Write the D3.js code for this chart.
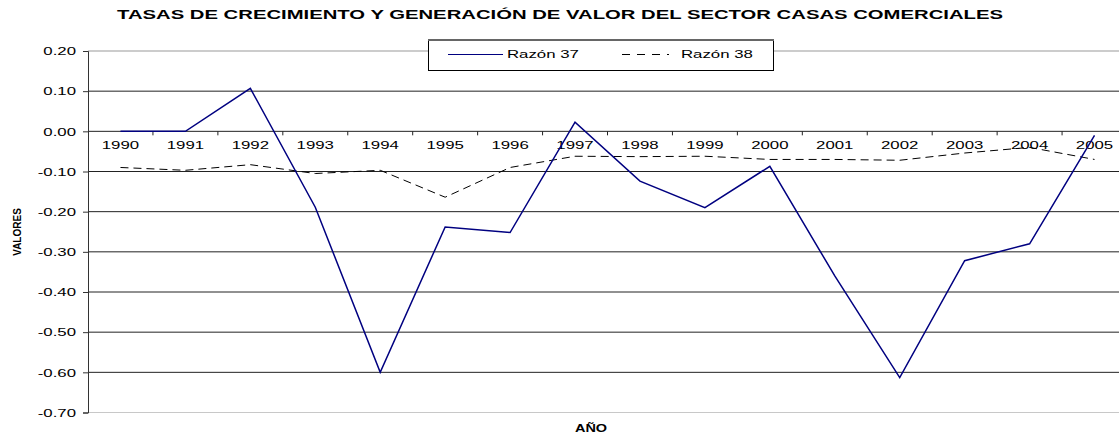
<!DOCTYPE html>
<html>
<head>
<meta charset="utf-8">
<script src="https://cdn.jsdelivr.net/npm/d3@7"></script>
<style>
  body { margin: 0; background: #fff; }
  svg { display: block; font-family: "Liberation Sans", Arial, sans-serif; }
</style>
</head>
<body>
<svg id="chart" width="1119" height="434"></svg>
<script>
// datos
const years = ['1990', '1991', '1992', '1993', '1994', '1995', '1996', '1997',
  '1998', '1999', '2000', '2001', '2002', '2003', '2004', '2005'];
const razon37 = [0.00, 0.00, 0.107, -0.189, -0.60, -0.238, -0.252, 0.023,
  -0.124, -0.19, -0.087, -0.36, -0.613, -0.322, -0.28, -0.01];
const razon38 = [-0.09, -0.097, -0.083, -0.105, -0.097, -0.164, -0.09, -0.062,
  -0.063, -0.062, -0.07, -0.07, -0.072, -0.054, -0.04, -0.07];
const yTicks = [0.2, 0.1, 0, -0.1, -0.2, -0.3, -0.4, -0.5, -0.6, -0.7];
const seriesNames = ['Razón 37', 'Razón 38'];

const svg = d3.select('#chart');
const stretch = 1.6; // el texto original sale ensanchado

const x = d3.scaleBand().domain(years).range([88, 1127]);
const y = d3.scaleLinear().domain([-0.7, 0.2]).range([412.5, 51]);

// título
svg.append('text')
  .attr('x', 560).attr('y', 19)
  .attr('text-anchor', 'middle')
  .attr('font-weight', 'bold')
  .attr('font-size', 12)
  .attr('textLength', 886)
  .attr('lengthAdjust', 'spacingAndGlyphs')
  .text('TASAS DE CRECIMIENTO Y GENERACIÓN DE VALOR DEL SECTOR CASAS COMERCIALES');

// líneas de división
svg.append('g').selectAll('line')
  .data(yTicks)
  .enter().append('line')
  .attr('x1', 88).attr('x2', 1119)
  .attr('y1', d => y(d)).attr('y2', d => y(d))
  .attr('stroke', d => d === -0.7 ? '#c8c8c8' : (d === 0.2 ? '#999' : '#222'))
  .attr('stroke-width', 1);

// eje Y
const yAxis = svg.append('g')
  .attr('transform', 'translate(88,0)')
  .call(d3.axisLeft(y).tickValues(yTicks).tickFormat(d3.format('.2f')).tickSize(5).tickPadding(0));
yAxis.select('.domain').attr('stroke', '#333');
yAxis.selectAll('.tick line').attr('stroke', '#333');
yAxis.selectAll('.tick text')
  .attr('font-size', 10.5)
  .attr('fill', '#000')
  .attr('x', 0)
  .attr('dy', '0.35em')
  .attr('transform', `translate(-12,0) scale(${stretch},1)`)
  .text(d => d3.format('.2f')(d).replace('−', '-'));

// eje X en el valor cero
const xAxis = svg.append('g')
  .attr('transform', `translate(0,${y(0)})`)
  .call(d3.axisBottom(x).tickSize(0).tickPadding(0));
xAxis.select('.domain').remove();
xAxis.selectAll('.tick text')
  .attr('font-size', 10.5)
  .attr('fill', '#000')
  .attr('y', 0)
  .attr('dy', 0)
  .attr('transform', `translate(0,18) scale(${stretch},1)`);
xAxis.selectAll('.sep')
  .data(years.slice(1))
  .enter().append('line')
  .attr('x1', d => x(d)).attr('x2', d => x(d))
  .attr('y1', 0).attr('y2', 4)
  .attr('stroke', '#222');

// títulos de ejes
svg.append('text')
  .attr('transform', 'translate(21,232) rotate(-90)')
  .attr('text-anchor', 'middle')
  .attr('font-weight', 'bold')
  .attr('font-size', 10)
  .text('VALORES');
svg.append('text')
  .attr('transform', `translate(591,432) scale(1.45,1)`)
  .attr('text-anchor', 'middle')
  .attr('font-weight', 'bold')
  .attr('font-size', 10)
  .text('AÑO');

// series
const line = d3.line()
  .x((d, i) => x(years[i]) + x.bandwidth() / 2)
  .y(d => y(d));

svg.append('path')
  .datum(razon38)
  .attr('fill', 'none')
  .attr('stroke', '#000')
  .attr('stroke-width', 1)
  .attr('stroke-dasharray', '8,5')
  .attr('d', line);

svg.append('path')
  .datum(razon37)
  .attr('fill', 'none')
  .attr('stroke', '#000080')
  .attr('stroke-width', 1.5)
  .attr('d', line);

// leyenda
const legend = svg.append('g');
legend.append('rect')
  .attr('x', 428.5).attr('y', 39.5)
  .attr('width', 345).attr('height', 31)
  .attr('fill', '#fff')
  .attr('stroke', '#000');
legend.append('line')
  .attr('x1', 428).attr('x2', 774)
  .attr('y1', 40).attr('y2', 40)
  .attr('stroke', '#666').attr('stroke-width', 2);
legend.append('line')
  .attr('x1', 448).attr('x2', 503).attr('y1', 54.5).attr('y2', 54.5)
  .attr('stroke', '#000080').attr('stroke-width', 1.2);
legend.append('line')
  .attr('x1', 622).attr('x2', 669).attr('y1', 54.5).attr('y2', 54.5)
  .attr('stroke', '#000').attr('stroke-width', 1.2)
  .attr('stroke-dasharray', '8,7');
legend.selectAll('.lt')
  .data(seriesNames)
  .enter().append('text')
  .attr('transform', (d, i) => `translate(${i === 0 ? 507 : 681},58) scale(${stretch},1)`)
  .attr('font-size', 10.5)
  .text(d => d);
</script>
</body>
</html>
